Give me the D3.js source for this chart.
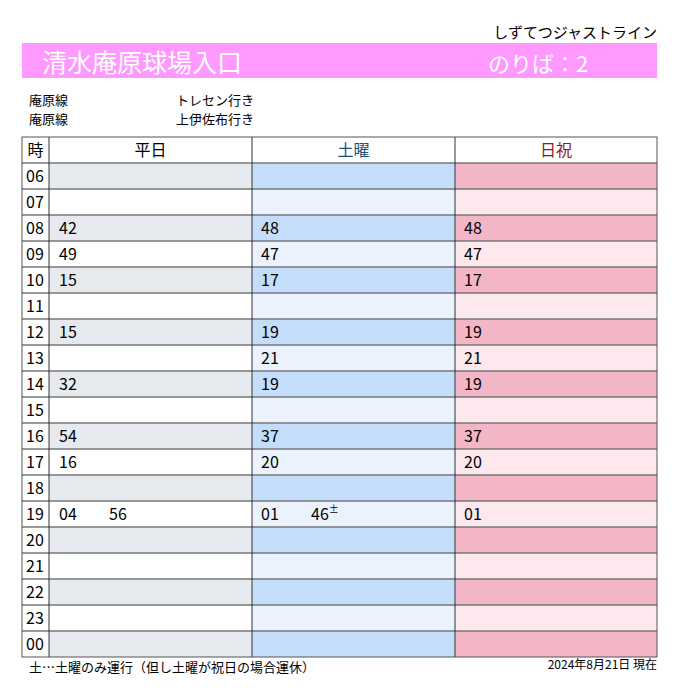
<!DOCTYPE html><html><head><meta charset="utf-8"><script src="https://cdn.jsdelivr.net/npm/d3@7"></script>
<style>body{margin:0;background:#fff}text{font-family:"Noto Sans CJK JP",sans-serif}</style></head><body>
<svg id="c" width="680" height="696"></svg>
<script>
const hours=["06","07","08","09","10","11","12","13","14","15","16","17","18","19","20","21","22","23","00"];
const weekday=[[],[],["42"],["49"],["15"],[],["15"],[],["32"],[],["54"],["16"],[],["04","56"],[],[],[],[],[]];
const saturday=[[],[],["48"],["47"],["17"],[],["19"],["21"],["19"],[],["37"],["20"],[],["01","46±"],[],[],[],[],[]];
const holiday=[[],[],["48"],["47"],["17"],[],["19"],["21"],["19"],[],["37"],["20"],[],["01"],[],[],[],[],[]];
const columns=["平日","土曜","日祝"];
const series=[weekday,saturday,holiday];
const headColors=["#000","#1f4e79","#8b1a2b"];
const fillDark=["#e6e9ee","#c4ddfa","#f3b6c6"],fillLight=["#ffffff","#eaf3fd","#fde8ed"];
const svg=d3.select("#c");
svg.append("text").attr("x",657).attr("y",38).attr("text-anchor","end").attr("font-size",15).text("しずてつジャストライン");
svg.append("rect").attr("x",22).attr("y",43).attr("width",635).attr("height",35).attr("fill","#ff99ff");
svg.append("text").attr("x",42).attr("y",72).attr("fill","#fff").attr("font-size",25).text("清水庵原球場入口");
svg.append("text").attr("x",488).attr("y",72).attr("fill","#fff").attr("font-size",22).text("のりば：2");
[["庵原線","トレセン行き",105],["庵原線","上伊佐布行き",124]].forEach(d=>{
 svg.append("text").attr("x",29).attr("y",d[2]).attr("font-size",13).text(d[0]);
 svg.append("text").attr("x",176).attr("y",d[2]).attr("font-size",13).text(d[1]);});
const y=d3.scaleBand().domain(["h",...hours]).range([137,657]);
const x=d3.scaleOrdinal().domain(["時",...columns]).range([22,49,252,455]);
const colW=[27,203,203,202];
hours.forEach((h,i)=>{
 columns.forEach((c,j)=>{
  svg.append("rect").attr("x",x(c)).attr("y",y(h)).attr("width",colW[j+1]).attr("height",y.bandwidth()).attr("fill",i%2==0?fillDark[j]:fillLight[j]);
  series[j][i].forEach((m,k)=>{
   const t=svg.append("text").attr("x",x(c)+(j==0?10:9)+k*50).attr("y",y(h)+y.bandwidth()/2+6).attr("font-size",16);
   if(m.endsWith("±")){t.text(m.slice(0,-1));t.append("tspan").attr("font-size",10).attr("dy",-7).text("±");}else t.text(m);
  });
 });
 svg.append("text").attr("x",26).attr("y",y(h)+y.bandwidth()/2+6).attr("font-size",16).text(h);
 svg.append("line").attr("x1",22).attr("x2",657).attr("y1",y(h)).attr("y2",y(h)).attr("stroke","#777").attr("stroke-width",1.5);
});
svg.append("text").attr("x",x("時")+13.5).attr("y",y("h")+19).attr("text-anchor","middle").attr("font-size",16).text("時");
columns.forEach((c,j)=>svg.append("text").attr("x",x(c)+colW[j+1]/2).attr("y",y("h")+19).attr("text-anchor","middle").attr("font-size",16).attr("fill",headColors[j]).text(c));
[49,252,455].forEach(v=>svg.append("line").attr("x1",v).attr("x2",v).attr("y1",137).attr("y2",657).attr("stroke","#333"));
svg.append("rect").attr("x",22).attr("y",137).attr("width",635).attr("height",520).attr("fill","none").attr("stroke","#555");
svg.append("text").attr("x",29).attr("y",672).attr("font-size",13).text("土…土曜のみ運行（但し土曜が祝日の場合運休）");
svg.append("text").attr("x",657).attr("y",669).attr("text-anchor","end").attr("font-size",12).text("2024年8月21日  現在");
</script></body></html>
